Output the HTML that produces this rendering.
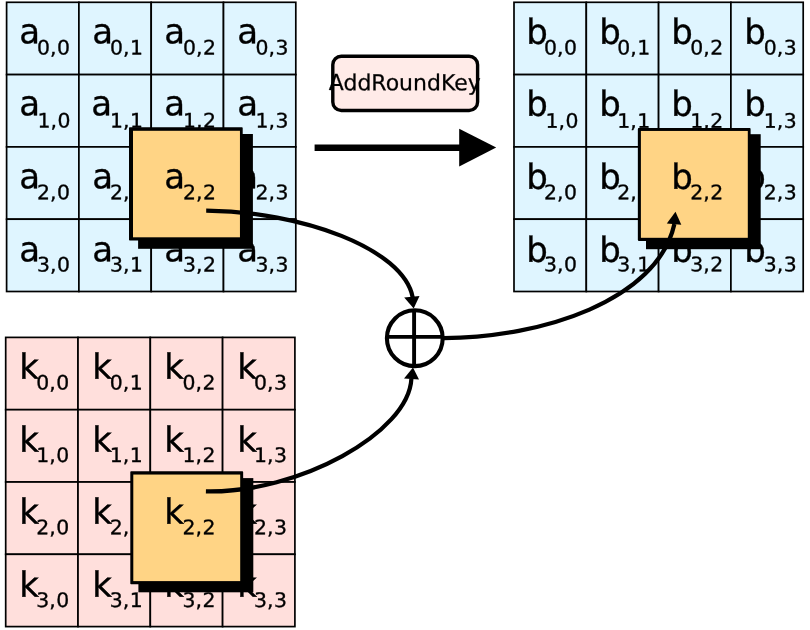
<!DOCTYPE html>
<html lang="en">
<head>
<meta charset="utf-8">
<title>AddRoundKey</title>
<style>
html,body{margin:0;padding:0;background:#fff;}
body{width:810px;height:630px;overflow:hidden;}
svg{display:block;will-change:transform;}
svg text{font-family:"DejaVu Sans","Liberation Sans",sans-serif;fill:#000;stroke:#000;stroke-width:0.35px;}
</style>
</head>
<body>
<svg width="810" height="630" viewBox="0 0 810 630">
<rect x="0" y="0" width="810" height="630" fill="#fff"/>
<g>
<rect x="6.60" y="2.30" width="72.30" height="72.30" fill="#dff5ff" stroke="#000" stroke-width="1.7"/>
<rect x="78.90" y="2.30" width="72.30" height="72.30" fill="#dff5ff" stroke="#000" stroke-width="1.7"/>
<rect x="151.20" y="2.30" width="72.30" height="72.30" fill="#dff5ff" stroke="#000" stroke-width="1.7"/>
<rect x="223.50" y="2.30" width="72.30" height="72.30" fill="#dff5ff" stroke="#000" stroke-width="1.7"/>
<rect x="6.60" y="74.60" width="72.30" height="72.30" fill="#dff5ff" stroke="#000" stroke-width="1.7"/>
<rect x="78.90" y="74.60" width="72.30" height="72.30" fill="#dff5ff" stroke="#000" stroke-width="1.7"/>
<rect x="151.20" y="74.60" width="72.30" height="72.30" fill="#dff5ff" stroke="#000" stroke-width="1.7"/>
<rect x="223.50" y="74.60" width="72.30" height="72.30" fill="#dff5ff" stroke="#000" stroke-width="1.7"/>
<rect x="6.60" y="146.90" width="72.30" height="72.30" fill="#dff5ff" stroke="#000" stroke-width="1.7"/>
<rect x="78.90" y="146.90" width="72.30" height="72.30" fill="#dff5ff" stroke="#000" stroke-width="1.7"/>
<rect x="151.20" y="146.90" width="72.30" height="72.30" fill="#dff5ff" stroke="#000" stroke-width="1.7"/>
<rect x="223.50" y="146.90" width="72.30" height="72.30" fill="#dff5ff" stroke="#000" stroke-width="1.7"/>
<rect x="6.60" y="219.20" width="72.30" height="72.30" fill="#dff5ff" stroke="#000" stroke-width="1.7"/>
<rect x="78.90" y="219.20" width="72.30" height="72.30" fill="#dff5ff" stroke="#000" stroke-width="1.7"/>
<rect x="151.20" y="219.20" width="72.30" height="72.30" fill="#dff5ff" stroke="#000" stroke-width="1.7"/>
<rect x="223.50" y="219.20" width="72.30" height="72.30" fill="#dff5ff" stroke="#000" stroke-width="1.7"/>
<g><text transform="matrix(1 0.001 0 1.01 19.16 43.20)" font-size="34">a</text><text transform="matrix(1 0.001 0 0.98 37.00 54.40)" x="0 13 20" font-size="20.4">0,0</text></g>
<g><text transform="matrix(1 0.001 0 1.01 92.16 43.20)" font-size="34">a</text><text transform="matrix(1 0.001 0 0.98 110.10 54.40)" x="0 13 20" font-size="20.4">0,1</text></g>
<g><text transform="matrix(1 0.001 0 1.01 164.16 43.20)" font-size="34">a</text><text transform="matrix(1 0.001 0 0.98 183.00 54.40)" x="0 13 20" font-size="20.4">0,2</text></g>
<g><text transform="matrix(1 0.001 0 1.01 237.16 43.20)" font-size="34">a</text><text transform="matrix(1 0.001 0 0.98 255.50 54.40)" x="0 13 20" font-size="20.4">0,3</text></g>
<g><text transform="matrix(1 0.001 0 1.01 19.16 115.20)" font-size="34">a</text><text transform="matrix(1 0.001 0 0.98 37.50 127.60)" x="0 13 20" font-size="20.4">1,0</text></g>
<g><text transform="matrix(1 0.001 0 1.01 91.16 115.20)" font-size="34">a</text><text transform="matrix(1 0.001 0 0.98 110.10 127.60)" x="0 13 20" font-size="20.4">1,1</text></g>
<g><text transform="matrix(1 0.001 0 1.01 164.16 115.20)" font-size="34">a</text><text transform="matrix(1 0.001 0 0.98 183.00 127.60)" x="0 13 20" font-size="20.4">1,2</text></g>
<g><text transform="matrix(1 0.001 0 1.01 237.16 115.20)" font-size="34">a</text><text transform="matrix(1 0.001 0 0.98 255.50 127.60)" x="0 13 20" font-size="20.4">1,3</text></g>
<g><text transform="matrix(1 0.001 0 1.01 19.16 188.20)" font-size="34">a</text><text transform="matrix(1 0.001 0 0.98 37.00 199.20)" x="0 13 20" font-size="20.4">2,0</text></g>
<g><text transform="matrix(1 0.001 0 1.01 92.16 188.20)" font-size="34">a</text><text transform="matrix(1 0.001 0 0.98 110.10 199.20)" x="0 13 20" font-size="20.4">2,1</text></g>
<g><text transform="matrix(1 0.001 0 1.01 164.16 188.20)" font-size="34">a</text><text transform="matrix(1 0.001 0 0.98 183.00 199.20)" x="0 13 20" font-size="20.4">2,2</text></g>
<g><text transform="matrix(1 0.001 0 1.01 237.16 188.20)" font-size="34">a</text><text transform="matrix(1 0.001 0 0.98 255.50 199.20)" x="0 13 20" font-size="20.4">2,3</text></g>
<g><text transform="matrix(1 0.001 0 1.01 19.16 261.20)" font-size="34">a</text><text transform="matrix(1 0.001 0 0.98 37.00 271.60)" x="0 13 20" font-size="20.4">3,0</text></g>
<g><text transform="matrix(1 0.001 0 1.01 92.16 261.20)" font-size="34">a</text><text transform="matrix(1 0.001 0 0.98 110.10 271.60)" x="0 13 20" font-size="20.4">3,1</text></g>
<g><text transform="matrix(1 0.001 0 1.01 164.16 261.20)" font-size="34">a</text><text transform="matrix(1 0.001 0 0.98 183.00 271.60)" x="0 13 20" font-size="20.4">3,2</text></g>
<g><text transform="matrix(1 0.001 0 1.01 237.16 261.20)" font-size="34">a</text><text transform="matrix(1 0.001 0 0.98 255.50 271.60)" x="0 13 20" font-size="20.4">3,3</text></g>
</g>
<g>
<rect x="514.00" y="2.30" width="72.30" height="72.30" fill="#dff5ff" stroke="#000" stroke-width="1.7"/>
<rect x="586.30" y="2.30" width="72.30" height="72.30" fill="#dff5ff" stroke="#000" stroke-width="1.7"/>
<rect x="658.60" y="2.30" width="72.30" height="72.30" fill="#dff5ff" stroke="#000" stroke-width="1.7"/>
<rect x="730.90" y="2.30" width="72.30" height="72.30" fill="#dff5ff" stroke="#000" stroke-width="1.7"/>
<rect x="514.00" y="74.60" width="72.30" height="72.30" fill="#dff5ff" stroke="#000" stroke-width="1.7"/>
<rect x="586.30" y="74.60" width="72.30" height="72.30" fill="#dff5ff" stroke="#000" stroke-width="1.7"/>
<rect x="658.60" y="74.60" width="72.30" height="72.30" fill="#dff5ff" stroke="#000" stroke-width="1.7"/>
<rect x="730.90" y="74.60" width="72.30" height="72.30" fill="#dff5ff" stroke="#000" stroke-width="1.7"/>
<rect x="514.00" y="146.90" width="72.30" height="72.30" fill="#dff5ff" stroke="#000" stroke-width="1.7"/>
<rect x="586.30" y="146.90" width="72.30" height="72.30" fill="#dff5ff" stroke="#000" stroke-width="1.7"/>
<rect x="658.60" y="146.90" width="72.30" height="72.30" fill="#dff5ff" stroke="#000" stroke-width="1.7"/>
<rect x="730.90" y="146.90" width="72.30" height="72.30" fill="#dff5ff" stroke="#000" stroke-width="1.7"/>
<rect x="514.00" y="219.20" width="72.30" height="72.30" fill="#dff5ff" stroke="#000" stroke-width="1.7"/>
<rect x="586.30" y="219.20" width="72.30" height="72.30" fill="#dff5ff" stroke="#000" stroke-width="1.7"/>
<rect x="658.60" y="219.20" width="72.30" height="72.30" fill="#dff5ff" stroke="#000" stroke-width="1.7"/>
<rect x="730.90" y="219.20" width="72.30" height="72.30" fill="#dff5ff" stroke="#000" stroke-width="1.7"/>
<g><text transform="matrix(1 0.001 0 1.02 526.16 43.70)" font-size="34">b</text><text transform="matrix(1 0.001 0 0.98 544.10 54.40)" x="0 13 20" font-size="20.4">0,0</text></g>
<g><text transform="matrix(1 0.001 0 1.02 599.16 43.70)" font-size="34">b</text><text transform="matrix(1 0.001 0 0.98 617.30 54.40)" x="0 13 20" font-size="20.4">0,1</text></g>
<g><text transform="matrix(1 0.001 0 1.02 671.16 43.70)" font-size="34">b</text><text transform="matrix(1 0.001 0 0.98 690.20 54.40)" x="0 13 20" font-size="20.4">0,2</text></g>
<g><text transform="matrix(1 0.001 0 1.02 744.16 43.70)" font-size="34">b</text><text transform="matrix(1 0.001 0 0.98 763.70 54.40)" x="0 13 20" font-size="20.4">0,3</text></g>
<g><text transform="matrix(1 0.001 0 1.02 526.16 115.70)" font-size="34">b</text><text transform="matrix(1 0.001 0 0.98 545.60 127.70)" x="0 13 20" font-size="20.4">1,0</text></g>
<g><text transform="matrix(1 0.001 0 1.02 599.16 115.70)" font-size="34">b</text><text transform="matrix(1 0.001 0 0.98 617.30 127.70)" x="0 13 20" font-size="20.4">1,1</text></g>
<g><text transform="matrix(1 0.001 0 1.02 671.16 115.70)" font-size="34">b</text><text transform="matrix(1 0.001 0 0.98 690.20 127.70)" x="0 13 20" font-size="20.4">1,2</text></g>
<g><text transform="matrix(1 0.001 0 1.02 744.16 115.70)" font-size="34">b</text><text transform="matrix(1 0.001 0 0.98 763.70 127.70)" x="0 13 20" font-size="20.4">1,3</text></g>
<g><text transform="matrix(1 0.001 0 1.02 526.16 188.70)" font-size="34">b</text><text transform="matrix(1 0.001 0 0.98 544.10 199.20)" x="0 13 20" font-size="20.4">2,0</text></g>
<g><text transform="matrix(1 0.001 0 1.02 599.16 188.70)" font-size="34">b</text><text transform="matrix(1 0.001 0 0.98 617.30 199.20)" x="0 13 20" font-size="20.4">2,1</text></g>
<g><text transform="matrix(1 0.001 0 1.02 671.16 188.70)" font-size="34">b</text><text transform="matrix(1 0.001 0 0.98 690.20 199.20)" x="0 13 20" font-size="20.4">2,2</text></g>
<g><text transform="matrix(1 0.001 0 1.02 744.16 188.70)" font-size="34">b</text><text transform="matrix(1 0.001 0 0.98 763.70 199.20)" x="0 13 20" font-size="20.4">2,3</text></g>
<g><text transform="matrix(1 0.001 0 1.02 526.16 261.70)" font-size="34">b</text><text transform="matrix(1 0.001 0 0.98 544.10 271.30)" x="0 13 20" font-size="20.4">3,0</text></g>
<g><text transform="matrix(1 0.001 0 1.02 599.16 261.70)" font-size="34">b</text><text transform="matrix(1 0.001 0 0.98 617.30 271.30)" x="0 13 20" font-size="20.4">3,1</text></g>
<g><text transform="matrix(1 0.001 0 1.02 671.16 261.70)" font-size="34">b</text><text transform="matrix(1 0.001 0 0.98 690.20 271.30)" x="0 13 20" font-size="20.4">3,2</text></g>
<g><text transform="matrix(1 0.001 0 1.02 744.16 261.70)" font-size="34">b</text><text transform="matrix(1 0.001 0 0.98 763.70 271.30)" x="0 13 20" font-size="20.4">3,3</text></g>
</g>
<g>
<rect x="5.70" y="337.40" width="72.30" height="72.30" fill="#ffdfdc" stroke="#000" stroke-width="1.7"/>
<rect x="78.00" y="337.40" width="72.30" height="72.30" fill="#ffdfdc" stroke="#000" stroke-width="1.7"/>
<rect x="150.30" y="337.40" width="72.30" height="72.30" fill="#ffdfdc" stroke="#000" stroke-width="1.7"/>
<rect x="222.60" y="337.40" width="72.30" height="72.30" fill="#ffdfdc" stroke="#000" stroke-width="1.7"/>
<rect x="5.70" y="409.70" width="72.30" height="72.30" fill="#ffdfdc" stroke="#000" stroke-width="1.7"/>
<rect x="78.00" y="409.70" width="72.30" height="72.30" fill="#ffdfdc" stroke="#000" stroke-width="1.7"/>
<rect x="150.30" y="409.70" width="72.30" height="72.30" fill="#ffdfdc" stroke="#000" stroke-width="1.7"/>
<rect x="222.60" y="409.70" width="72.30" height="72.30" fill="#ffdfdc" stroke="#000" stroke-width="1.7"/>
<rect x="5.70" y="482.00" width="72.30" height="72.30" fill="#ffdfdc" stroke="#000" stroke-width="1.7"/>
<rect x="78.00" y="482.00" width="72.30" height="72.30" fill="#ffdfdc" stroke="#000" stroke-width="1.7"/>
<rect x="150.30" y="482.00" width="72.30" height="72.30" fill="#ffdfdc" stroke="#000" stroke-width="1.7"/>
<rect x="222.60" y="482.00" width="72.30" height="72.30" fill="#ffdfdc" stroke="#000" stroke-width="1.7"/>
<rect x="5.70" y="554.30" width="72.30" height="72.30" fill="#ffdfdc" stroke="#000" stroke-width="1.7"/>
<rect x="78.00" y="554.30" width="72.30" height="72.30" fill="#ffdfdc" stroke="#000" stroke-width="1.7"/>
<rect x="150.30" y="554.30" width="72.30" height="72.30" fill="#ffdfdc" stroke="#000" stroke-width="1.7"/>
<rect x="222.60" y="554.30" width="72.30" height="72.30" fill="#ffdfdc" stroke="#000" stroke-width="1.7"/>
<g><text transform="matrix(1 0.001 0 1.03 19.16 378.80)" font-size="34">k</text><text transform="matrix(1 0.001 0 0.98 36.30 389.40)" x="0 13 20" font-size="20.4">0,0</text></g>
<g><text transform="matrix(1 0.001 0 1.03 92.16 378.80)" font-size="34">k</text><text transform="matrix(1 0.001 0 0.98 109.70 389.40)" x="0 13 20" font-size="20.4">0,1</text></g>
<g><text transform="matrix(1 0.001 0 1.03 164.16 378.80)" font-size="34">k</text><text transform="matrix(1 0.001 0 0.98 182.60 389.40)" x="0 13 20" font-size="20.4">0,2</text></g>
<g><text transform="matrix(1 0.001 0 1.03 237.16 378.80)" font-size="34">k</text><text transform="matrix(1 0.001 0 0.98 254.10 389.40)" x="0 13 20" font-size="20.4">0,3</text></g>
<g><text transform="matrix(1 0.001 0 1.03 19.16 451.80)" font-size="34">k</text><text transform="matrix(1 0.001 0 0.98 36.30 462.10)" x="0 13 20" font-size="20.4">1,0</text></g>
<g><text transform="matrix(1 0.001 0 1.03 92.16 451.80)" font-size="34">k</text><text transform="matrix(1 0.001 0 0.98 109.70 462.10)" x="0 13 20" font-size="20.4">1,1</text></g>
<g><text transform="matrix(1 0.001 0 1.03 164.16 451.80)" font-size="34">k</text><text transform="matrix(1 0.001 0 0.98 182.60 462.10)" x="0 13 20" font-size="20.4">1,2</text></g>
<g><text transform="matrix(1 0.001 0 1.03 237.16 451.80)" font-size="34">k</text><text transform="matrix(1 0.001 0 0.98 254.10 462.10)" x="0 13 20" font-size="20.4">1,3</text></g>
<g><text transform="matrix(1 0.001 0 1.03 19.16 523.80)" font-size="34">k</text><text transform="matrix(1 0.001 0 0.98 36.30 534.20)" x="0 13 20" font-size="20.4">2,0</text></g>
<g><text transform="matrix(1 0.001 0 1.03 92.16 523.80)" font-size="34">k</text><text transform="matrix(1 0.001 0 0.98 109.70 534.20)" x="0 13 20" font-size="20.4">2,1</text></g>
<g><text transform="matrix(1 0.001 0 1.03 164.16 523.80)" font-size="34">k</text><text transform="matrix(1 0.001 0 0.98 182.60 534.20)" x="0 13 20" font-size="20.4">2,2</text></g>
<g><text transform="matrix(1 0.001 0 1.03 237.16 523.80)" font-size="34">k</text><text transform="matrix(1 0.001 0 0.98 254.10 534.20)" x="0 13 20" font-size="20.4">2,3</text></g>
<g><text transform="matrix(1 0.001 0 1.03 19.16 596.80)" font-size="34">k</text><text transform="matrix(1 0.001 0 0.98 36.30 607.00)" x="0 13 20" font-size="20.4">3,0</text></g>
<g><text transform="matrix(1 0.001 0 1.03 92.16 596.80)" font-size="34">k</text><text transform="matrix(1 0.001 0 0.98 109.70 607.00)" x="0 13 20" font-size="20.4">3,1</text></g>
<g><text transform="matrix(1 0.001 0 1.03 164.16 596.80)" font-size="34">k</text><text transform="matrix(1 0.001 0 0.98 182.60 607.00)" x="0 13 20" font-size="20.4">3,2</text></g>
<g><text transform="matrix(1 0.001 0 1.03 237.16 596.80)" font-size="34">k</text><text transform="matrix(1 0.001 0 0.98 254.10 607.00)" x="0 13 20" font-size="20.4">3,3</text></g>
</g>
<g>
<rect x="138.10" y="134.00" width="114.80" height="114.80" fill="#000"/>
<rect x="129.00" y="127.15" width="113.70" height="113.35" fill="#000" rx="0.8" ry="0.8"/>
<rect x="133.00" y="130.80" width="106.95" height="106.50" fill="#ffd485"/>
<g><text transform="matrix(1 0.001 0 1.01 164.16 188.20)" font-size="34">a</text><text transform="matrix(1 0.001 0 0.98 183.00 199.20)" x="0 13 20" font-size="20.4">2,2</text></g>
</g>
<g>
<rect x="646.00" y="134.20" width="114.70" height="115.00" fill="#000"/>
<rect x="637.85" y="128.10" width="112.75" height="112.80" fill="#000" rx="0.8" ry="0.8"/>
<rect x="640.90" y="130.95" width="106.90" height="106.85" fill="#ffd485"/>
<g><text transform="matrix(1 0.001 0 1.02 671.16 188.70)" font-size="34">b</text><text transform="matrix(1 0.001 0 0.98 690.20 199.20)" x="0 13 20" font-size="20.4">2,2</text></g>
</g>
<g>
<rect x="138.40" y="478.10" width="114.90" height="114.20" fill="#000"/>
<rect x="130.30" y="471.20" width="112.85" height="113.00" fill="#000" rx="0.8" ry="0.8"/>
<rect x="133.30" y="474.55" width="106.90" height="106.55" fill="#ffd485"/>
<g><text transform="matrix(1 0.001 0 1.03 164.16 523.80)" font-size="34">k</text><text transform="matrix(1 0.001 0 0.98 182.60 534.20)" x="0 13 20" font-size="20.4">2,2</text></g>
</g>
<rect x="332.8" y="56.2" width="144.8" height="54.3" rx="8.5" ry="8.5" fill="#ffebe8" stroke="#000" stroke-width="3.4"/>
<text transform="matrix(1 0.001 0 1 404.8 90.2)" font-size="22" text-anchor="middle" style="stroke-width:0.25px">AddRoundKey</text>
<path d="M314.6 147.75 H462" stroke="#000" stroke-width="6.3" fill="none"/>
<path d="M459.2 128.8 L496.2 147.4 L459.2 166.4 Z" fill="#000"/>
<circle cx="414.8" cy="338.2" r="27.9" fill="none" stroke="#000" stroke-width="4.1"/>
<path d="M414.1 310 V366 M387 336.9 H443" stroke="#000" stroke-width="3.9" fill="none"/>
<path d="M206.2 210.6 C 301.0 211.4, 403.2 248.3, 412.7 297.3" stroke="#000" stroke-width="4.2" fill="none"/>
<path d="M205.9 491.4 C 298.3 493.4, 408.8 433.0, 411.4 378.6" stroke="#000" stroke-width="4.2" fill="none"/>
<path d="M443.8 338.1 C 541.6 337.6, 657.5 300.5, 674.4 224.0" stroke="#000" stroke-width="4.2" fill="none"/>
<path d="M404.2 297.5 L419.5 296.0 L413.7 308.6 Z" fill="#000"/>
<path d="M404.0 378.4 L419.0 379.5 L413.0 367.6 Z" fill="#000"/>
<path d="M666.8 223.5 L681.3 224.7 L675.5 211.8 Z" fill="#000"/>
</svg>
</body>
</html>
